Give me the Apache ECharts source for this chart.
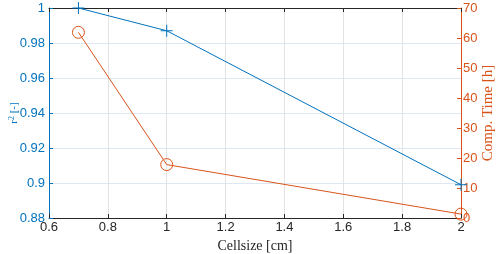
<!DOCTYPE html>
<html>
<head>
<meta charset="utf-8">
<script src="https://cdn.jsdelivr.net/npm/echarts@6/dist/echarts.min.js"></script>
<style>
  html, body { margin: 0; padding: 0; background: #fff; }
  #chart { width: 498px; height: 254px; }
</style>
</head>
<body>
<div id="chart"></div>
<script>
const cellsize = [0.7, 1, 2];
const r2 = [1.0, 0.987, 0.899];
const compTime = [61.9, 17.8, 1.3];

const blue = '#0072BD';
const orange = '#D95319';
const tickFont = 'Liberation Sans';

const chart = echarts.init(document.getElementById('chart'));

chart.setOption({
    animation: false,
    grid: { left: 49, right: 37, top: 8, bottom: 36, outerBoundsMode: 'none' },
    xAxis: [
        {
            type: 'value',
            min: 0.6,
            max: 2,
            interval: 0.2,
            name: 'Cellsize [cm]',
            nameLocation: 'middle',
            nameGap: 21,
            nameMoveOverlap: false,
            nameTextStyle: { fontFamily: 'Liberation Serif', fontSize: 14, color: '#262626' },
            axisLine: { lineStyle: { color: '#262626', width: 1 } },
            axisTick: { inside: true, length: 4, lineStyle: { color: '#262626' } },
            axisLabel: {
                fontFamily: tickFont, fontSize: 13, color: '#262626', margin: 3,
                formatter: v => String(+v.toFixed(1))
            },
            splitLine: { show: true, lineStyle: { color: '#e3e3e3', width: 1 } }
        },
        {
            type: 'value',
            position: 'top',
            min: 0.6,
            max: 2,
            interval: 0.2,
            axisLine: { lineStyle: { color: '#262626', width: 1 } },
            axisTick: { inside: true, length: 4, lineStyle: { color: '#262626' } },
            axisLabel: { show: false },
            splitLine: { show: false }
        }
    ],
    yAxis: [
        {
            type: 'value',
            min: 0.88,
            max: 1,
            interval: 0.02,
            name: '{a|r}{s|2}{a| [-]}',
            nameLocation: 'middle',
            nameGap: 28,
            nameMoveOverlap: false,
            nameTextStyle: {
                rich: {
                    a: { fontFamily: 'Liberation Serif', fontSize: 11, color: blue },
                    s: { fontFamily: 'Liberation Serif', fontSize: 8, color: blue, verticalAlign: 'top', padding: [0, 0, 5, 0] }
                }
            },
            axisLine: { show: true, lineStyle: { color: blue, width: 1 } },
            axisTick: { show: true, inside: true, length: 4, lineStyle: { color: blue } },
            axisLabel: {
                fontFamily: tickFont, fontSize: 13, color: blue, margin: 4,
                formatter: v => String(+v.toFixed(2))
            },
            splitLine: { show: true, lineStyle: { color: '#dde8f3', width: 1 } }
        },
        {
            type: 'value',
            min: 0,
            max: 70,
            interval: 10,
            position: 'right',
            name: 'Comp. Time [h]',
            nameLocation: 'middle',
            nameGap: 20,
            nameRotate: 90,
            nameMoveOverlap: false,
            nameTextStyle: { fontFamily: 'Liberation Serif', fontSize: 15, color: orange },
            axisLine: { show: true, lineStyle: { color: orange, width: 1 } },
            axisTick: { show: true, inside: true, length: 4, lineStyle: { color: orange } },
            axisLabel: { fontFamily: tickFont, fontSize: 13, color: orange, margin: 2 },
            splitLine: { show: false }
        }
    ],
    series: [
        {
            type: 'line',
            yAxisIndex: 0,
            data: cellsize.map((x, i) => [x, r2[i]]),
            clip: false,
            symbol: 'path://M5 0L5 10M0 5L10 5',
            symbolSize: 12,
            itemStyle: { color: 'none', borderColor: blue, borderWidth: 1 },
            lineStyle: { color: blue, width: 1 },
            z: 3
        },
        {
            type: 'line',
            yAxisIndex: 1,
            data: cellsize.map((x, i) => [x, compTime[i]]),
            clip: false,
            symbol: 'circle',
            symbolSize: 12,
            itemStyle: { color: 'none', borderColor: orange, borderWidth: 1 },
            lineStyle: { color: orange, width: 1 },
            z: 3
        }
    ]
});
</script>
</body>
</html>
